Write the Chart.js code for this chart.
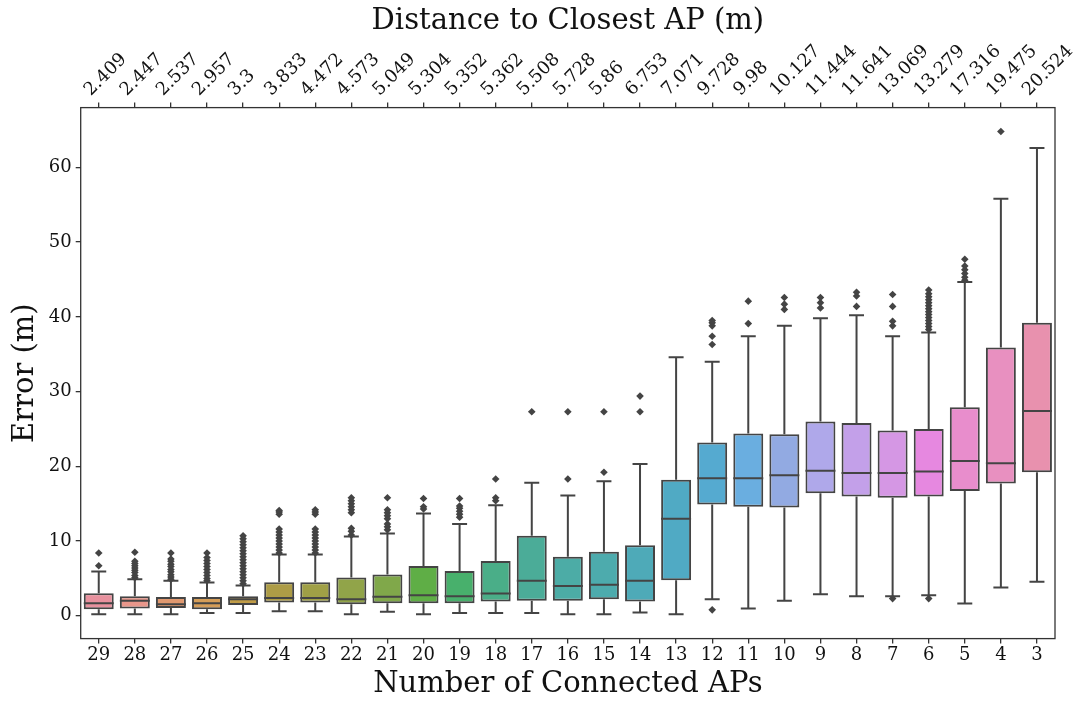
<!DOCTYPE html>
<html>
<head>
<meta charset="utf-8">
<script src="https://cdn.jsdelivr.net/npm/chart.js@4.4.0/dist/chart.umd.min.js"></script>
<style>
    body { margin: 0; background: #fff; }
    #wrap { width: 1087px; height: 702px; }
</style>
</head>
<body>
<div id="wrap"><canvas id="boxChart"></canvas></div>
<script>
// Number of connected APs (bottom axis) and distance to closest AP (top axis)
const categories = ['29', '28', '27', '26', '25', '24', '23', '22', '21', '20', '19', '18', '17', '16',
    '15', '14', '13', '12', '11', '10', '9', '8', '7', '6', '5', '4', '3'];
const distLabels = ['2.409', '2.447', '2.537', '2.957', '3.3', '3.833', '4.472', '4.573', '5.049', '5.304',
    '5.352', '5.362', '5.508', '5.728', '5.86', '6.753', '7.071', '9.728', '9.98', '10.127', '11.444',
    '11.641', '13.069', '13.279', '17.316', '19.475', '20.524'];

// Box statistics (error in m)
const whiskerLow = [0.22, 0.22, 0.22, 0.36, 0.36, 0.62, 0.62, 0.22, 0.53, 0.22, 0.36, 0.36, 0.36, 0.22,
    0.22, 0.45, 0.22, 2.23, 0.98, 2.0, 2.9, 2.63, 2.63, 2.76, 1.65, 3.8, 4.55];
const q1 = [0.89, 0.98, 1.03, 0.89, 1.43, 1.78, 1.78, 1.56, 1.69, 1.69, 1.69, 1.92, 2.0, 2.0,
    2.23, 1.92, 4.77, 14.9, 14.6, 14.5, 16.4, 15.95, 15.8, 15.95, 16.7, 17.7, 19.2];
const medians = [1.69, 2.0, 1.56, 1.69, 2.23, 2.37, 2.37, 2.23, 2.54, 2.76, 2.63, 2.99, 4.68, 4.0,
    4.14, 4.68, 13.0, 18.4, 18.4, 18.8, 19.4, 19.1, 19.1, 19.3, 20.7, 20.4, 27.4];
const q3 = [3.03, 2.63, 2.5, 2.5, 2.63, 4.5, 4.5, 5.12, 5.52, 6.68, 6.0, 7.35, 10.7, 7.9,
    8.56, 9.45, 18.2, 23.2, 24.4, 24.3, 26.0, 25.8, 24.8, 25.0, 27.9, 35.9, 39.2];
const whiskerHigh = [5.93, 4.9, 4.68, 4.46, 4.05, 8.2, 8.2, 10.6, 11.0, 13.7, 12.3, 14.8, 17.8, 16.1,
    18.0, 20.3, 34.6, 34.0, 37.4, 38.8, 39.8, 40.2, 37.4, 37.9, 44.65, 55.8, 62.6];
const outliers = [
    [6.7, 8.4],
    [5.1, 5.4, 5.8, 6.1, 6.4, 6.7, 7.0, 7.3, 8.5],
    [4.9, 5.2, 5.5, 5.9, 6.2, 6.6, 6.9, 7.3, 7.6, 8.4],
    [4.7, 5.0, 5.4, 5.8, 6.2, 6.6, 7.0, 7.4, 7.8, 8.4],
    [4.3, 4.7, 5.1, 5.5, 5.9, 6.3, 6.7, 7.1, 7.5, 7.9, 8.3, 8.7, 9.1, 9.5, 9.9, 10.3, 10.7],
    [8.4, 8.8, 9.2, 9.6, 10.0, 10.4, 10.8, 11.2, 11.6, 13.6, 13.9, 14.1],
    [8.4, 8.8, 9.2, 9.6, 10.0, 10.4, 10.8, 11.2, 11.6, 13.6, 13.9, 14.2],
    [10.8, 11.3, 11.7, 13.8, 14.2, 14.6, 15.0, 15.4, 15.8],
    [11.5, 11.9, 12.3, 13.0, 13.4, 13.8, 14.2, 15.8],
    [14.3, 14.6, 15.7],
    [13.2, 13.6, 14.0, 14.4, 14.7, 15.7],
    [15.4, 15.8, 18.3],
    [27.3],
    [18.3, 27.3],
    [19.2, 27.3],
    [27.3, 29.4],
    [],
    [0.8, 36.3, 37.4, 38.8, 39.2, 39.5],
    [39.1, 42.1],
    [41.0, 41.7, 42.6],
    [41.2, 41.9, 42.6],
    [41.4, 42.8, 43.3],
    [2.3, 38.8, 39.4, 41.4, 43.0],
    [2.3, 38.3, 38.7, 39.1, 39.5, 39.9, 40.3, 40.7, 41.1, 41.5, 41.9, 42.3, 42.7, 43.1, 43.6],
    [44.9, 45.3, 45.8, 46.3, 46.8, 47.7],
    [64.8],
    []
];
const yTicks = [0, 10, 20, 30, 40, 50, 60];

const boxColors = ['#e8919e', '#e8968a', '#e0986f', '#d59d58', '#c09c47', '#ad9c46', '#a0a046', '#91a449',
    '#80a84a', '#5fae46', '#48b06c', '#4aae88', '#4bac98', '#4caca6', '#4dabad', '#4eaab8', '#50aac4',
    '#55aad0', '#6aaee0', '#92aae2', '#afa8ea', '#c3a0e9', '#d597e4', '#e688e0', '#e88dcc', '#e890c0',
    '#e891ae'];

const lineColor = '#444444';
const serif = "'DejaVu Serif', serif";

// Flatten outliers into scatter points, x given as the category label
const outlierPoints = [];
outliers.forEach((list, i) => {
    list.forEach(v => outlierPoints.push({x: categories[i], y: v}));
});

// Draw whiskers, caps, medians and the frame on top of the bars
const boxExtras = {
    id: 'boxExtras',
    afterDatasetsDraw(chart) {
        const ctx = chart.ctx;
        const x = chart.scales.x;
        const y = chart.scales.y;
        const meta = chart.getDatasetMeta(0);
        ctx.save();
        ctx.strokeStyle = lineColor;
        ctx.lineWidth = 2;
        categories.forEach((c, i) => {
            const bar = meta.data[i];
            const cx = x.getPixelForValue(i);
            const half = bar.width / 2;
            const cap = half / 2;
            ctx.beginPath();
            ctx.moveTo(cx, y.getPixelForValue(q3[i]));
            ctx.lineTo(cx, y.getPixelForValue(whiskerHigh[i]));
            ctx.moveTo(cx - cap, y.getPixelForValue(whiskerHigh[i]));
            ctx.lineTo(cx + cap, y.getPixelForValue(whiskerHigh[i]));
            ctx.moveTo(cx, y.getPixelForValue(q1[i]));
            ctx.lineTo(cx, y.getPixelForValue(whiskerLow[i]));
            ctx.moveTo(cx - cap, y.getPixelForValue(whiskerLow[i]));
            ctx.lineTo(cx + cap, y.getPixelForValue(whiskerLow[i]));
            ctx.moveTo(cx - half, y.getPixelForValue(medians[i]));
            ctx.lineTo(cx + half, y.getPixelForValue(medians[i]));
            ctx.stroke();
        });
        const a = chart.chartArea;
        ctx.strokeStyle = '#333333';
        ctx.lineWidth = 1.3;
        ctx.strokeRect(a.left, a.top, a.right - a.left, a.bottom - a.top);
        ctx.restore();
    }
};

const ctx = document.getElementById('boxChart').getContext('2d');
const mainChart = new Chart(ctx, {
    type: 'bar',
    data: {
        labels: categories,
        datasets: [{
            data: q1.map((v, i) => [v, q3[i]]),
            backgroundColor: boxColors,
            borderColor: lineColor,
            borderWidth: 2,
            borderSkipped: false,
            barPercentage: 0.83,
            categoryPercentage: 1.0,
            order: 2
        }, {
            type: 'scatter',
            data: outlierPoints,
            pointStyle: 'rectRot',
            radius: 3.8,
            backgroundColor: lineColor,
            borderColor: lineColor,
            borderWidth: 0,
            order: 1
        }]
    },
    options: {
        responsive: true,
        maintainAspectRatio: false,
        animation: false,
        layout: {
            padding: {left: 8, right: 32, top: 4, bottom: 0}
        },
        plugins: {
            legend: {display: false},
            tooltip: {enabled: false}
        },
        scales: {
            x: {
                type: 'category',
                position: 'bottom',
                offset: true,
                border: {display: false},
                grid: {display: true, drawOnChartArea: false, offset: false, tickLength: 5, color: '#333333', lineWidth: 1.3},
                ticks: {color: '#111', font: {family: serif, size: 18}, padding: 1, maxRotation: 0, autoSkip: false},
                title: {display: true, text: 'Number of Connected APs', color: '#111',
                    font: {family: serif, size: 29}, padding: {top: 0, bottom: 0}}
            },
            x2: {
                type: 'category',
                position: 'top',
                labels: distLabels,
                offset: true,
                border: {display: false},
                grid: {display: true, drawOnChartArea: false, offset: false, tickLength: 5, color: '#333333', lineWidth: 1.3},
                ticks: {color: '#111', font: {family: serif, size: 18}, padding: 2, labelOffset: 4,
                    minRotation: 45, maxRotation: 45, autoSkip: false},
                title: {display: true, text: 'Distance to Closest AP (m)', color: '#111',
                    font: {family: serif, size: 29}, padding: {top: 0, bottom: 0}}
            },
            y: {
                type: 'linear',
                min: -3.05,
                max: 68,
                border: {display: false},
                afterBuildTicks: axis => {
                    axis.ticks = yTicks.map(v => ({value: v}));
                },
                grid: {display: true, drawOnChartArea: false, tickLength: 5, color: '#333333', lineWidth: 1.3},
                ticks: {color: '#111', font: {family: serif, size: 18}, padding: 4},
                title: {display: true, text: 'Error (m)', color: '#111',
                    font: {family: serif, size: 29}, padding: {top: 0, bottom: 2}}
            }
        }
    },
    plugins: [boxExtras]
});
</script>
</body>
</html>
